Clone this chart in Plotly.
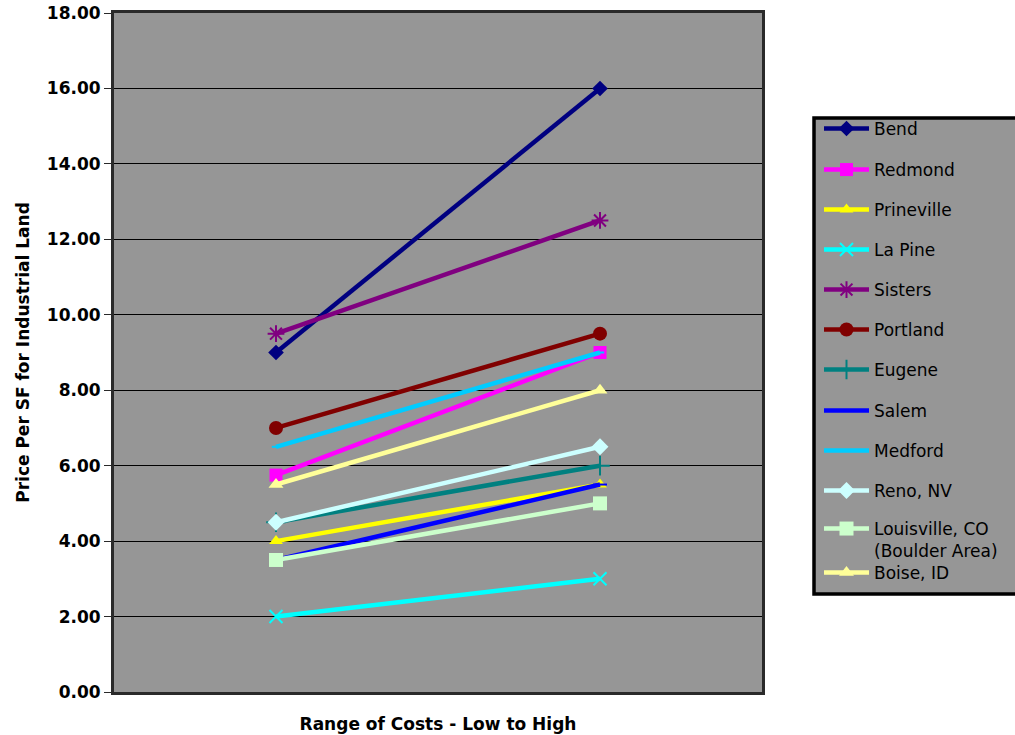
import plotly.graph_objects as go

categories = ["Low", "High"]

bend = [9.0, 16.0]
redmond = [5.75, 9.0]
prineville = [4.0, 5.5]
la_pine = [2.0, 3.0]
sisters = [9.5, 12.5]
portland = [7.0, 9.5]
eugene = [4.5, 6.0]
salem = [3.5, 5.5]
medford = [6.5, 9.0]
reno = [4.5, 6.5]
louisville = [3.5, 5.0]
boise = [5.5, 8.0]

series = [
    ("Bend", bend, "#000080", "diamond", 12, 4.5),
    ("Redmond", redmond, "#FF00FF", "square", 13, 4.5),
    ("Prineville", prineville, "#FFFF00", "triangle-up", 12, 4.5),
    ("La Pine", la_pine, "#00FFFF", "x-thin", 13, 4.5),
    ("Sisters", sisters, "#800080", "asterisk", 14, 4.5),
    ("Portland", portland, "#800000", "circle", 14, 4.5),
    ("Eugene", eugene, "#008080", "cross-thin", 14, 4.5),
    ("Salem", salem, "#0000FF", "line-ew", 10, 4.5),
    ("Medford", medford, "#00CCFF", "line-ew", 6, 4.5),
    ("Reno, NV", reno, "#CCFFFF", "diamond", 13, 4.5),
    ("Louisville, CO<br>(Boulder Area)", louisville, "#CCFFCC", "square", 14, 4.5),
    ("Boise, ID", boise, "#FFFF99", "triangle-up", 13, 4.5),
]

W, H = 1015, 735
L, T = 114, 13
pw, ph = 648, 679
R, B = W - L - pw, H - T - ph

def px2x(px):
    return (px - L) / pw

def py2y(py):
    return (T + ph - py) / ph

legend_y_px = [129, 170, 210, 250, 290, 330, 370, 411, 451, 491, 529, 573]

fig = go.Figure()
layout_legends = {}
for i, (name, vals, color, sym, size, lw) in enumerate(series):
    key = "legend" if i == 0 else f"legend{i+1}"
    open_like = sym in ("x-thin", "asterisk", "cross-thin", "line-ew")
    marker = dict(symbol=sym, size=size, color=color,
                  line=dict(color=color, width=2 if open_like else 0))
    fig.add_trace(go.Scatter(
        x=categories, y=vals, name=name, mode="lines+markers",
        line=dict(color=color, width=lw), marker=marker, legend=key,
    ))
    ypx = legend_y_px[i]
    multi = "<br>" in name
    layout_legends[key] = dict(
        x=px2x(819), xanchor="left",
        y=py2y(ypx + (11 if multi else 0)), yanchor="middle",
        bgcolor="rgba(0,0,0,0)", borderwidth=0,
        font=dict(family="DejaVu Sans", size=17, color="black"),
        valign="top", itemwidth=45,
    )

fig.update_layout(
    width=W, height=H,
    margin=dict(l=L, r=R, t=T, b=B, pad=0, autoexpand=False),
    paper_bgcolor="white",
    plot_bgcolor="#969696",
    showlegend=True,
    font=dict(family="DejaVu Sans", color="black"),
    xaxis=dict(
        type="category", range=[-0.5, 1.5], showticklabels=False, ticks="",
        showgrid=False, zeroline=False,
        showline=True, mirror=True, linecolor="#2a2a2a", linewidth=3,
        title=dict(text="<b>Range of Costs - Low to High</b>",
                   font=dict(size=17, family="DejaVu Sans", color="black"), standoff=25),
    ),
    yaxis=dict(
        range=[0, 18], tickvals=[0, 2, 4, 6, 8, 10, 12, 14, 16, 18],
        ticktext=[f"<b>{v:.2f}</b>" for v in [0, 2, 4, 6, 8, 10, 12, 14, 16, 18]],
        tickfont=dict(size=17, family="DejaVu Sans", color="black"),
        ticks="outside", ticklen=7, tickcolor="#2a2a2a", tickwidth=1,
        showgrid=True, gridcolor="black", gridwidth=1, zeroline=False,
        showline=True, mirror=True, linecolor="#2a2a2a", linewidth=3,
        title=dict(text="<b>Price Per SF for Industrial Land</b>",
                   font=dict(size=17, family="DejaVu Sans", color="black"), standoff=13),
    ),
    shapes=[dict(
        type="rect", xref="paper", yref="paper", layer="below",
        x0=px2x(814), x1=px2x(1020), y0=py2y(594), y1=py2y(118),
        fillcolor="#969696", line=dict(color="black", width=3.5),
    )],
    **layout_legends,
)

fig.write_html("out.html", config={"displayModeBar": False},
               post_script="document.body.style.margin='0';")
